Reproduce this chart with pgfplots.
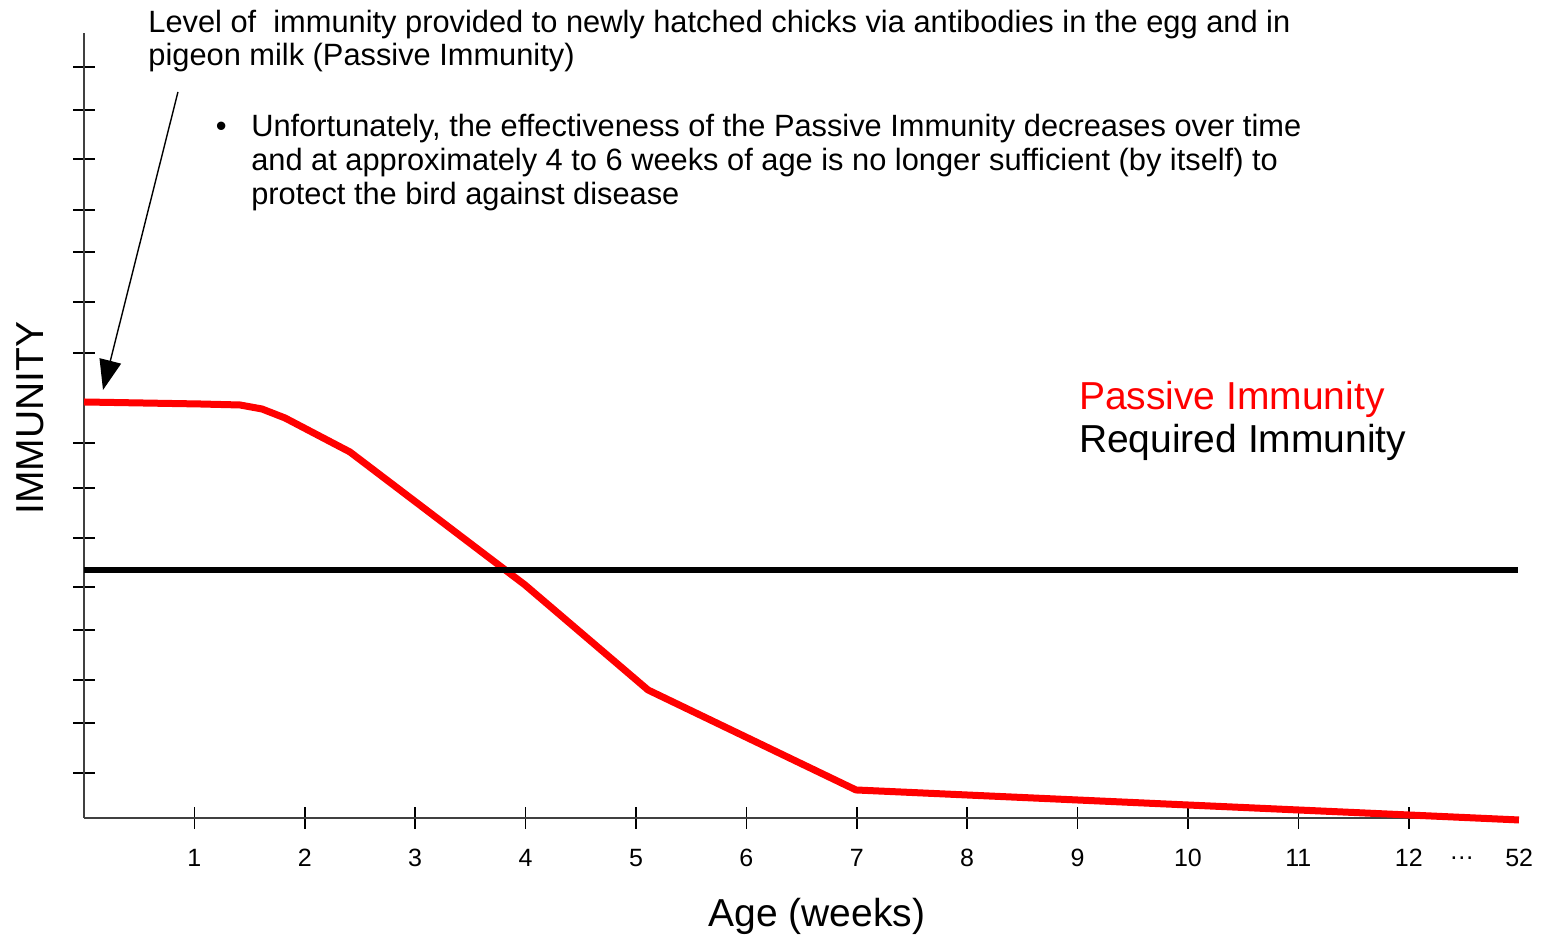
\documentclass[border=0pt]{standalone}
\usepackage{fontspec}
\setmainfont{Liberation Sans}
\usepackage{pgfplots}
\pgfplotsset{compat=1.18}
\usetikzlibrary{arrows.meta}

% passive immunity curve (x = week position, y = level)
\pgfplotstableread{
x      y
0      416
1.05   414
1.413  413
1.612  409
1.821  400
2.409  366
3.995  233
5.109  128
6.993  28
12.998 -2
}\passive

\begin{document}
\begin{tikzpicture}
\begin{axis}[
  scale only axis,
  width=717.6pt, height=392.5pt,
  xmin=0, xmax=13, ymin=0, ymax=785,
  axis lines=left,
  axis line style={-, black!75, line width=0.8pt},
  clip=false,
  tick align=center,
  major tick length=11pt,
  tick style={black, line width=0.8pt},
  xtick={1,2,3,4,5,6,7,8,9,10,11,12},
  xticklabels={1,2,3,4,5,6,7,8,9,10,11,12},
  extra x ticks={12.48,13},
  extra x tick labels={\raisebox{3.5pt}{\char"2026},52},
  extra x tick style={tick style={draw=none}},
  xticklabel style={font=\fontsize{12.5}{15}\selectfont, anchor=base, yshift=-19pt},
  ytick={45,95,138,188,231,280,330,375,465,516,566,608,659,708,751},
  yticklabels={},
]
\addplot[red, line width=3.5pt, line join=round] table[x=x,y=y] {\passive};
\addplot[black, line width=3pt] coordinates {(0,248) (12.99,248)};

\draw[line width=0.7pt, -{Triangle[length=15pt,width=11pt]}] (axis cs:0.851,726) -- (axis cs:0.172,428);

\begin{scope}[font=\fontsize{15.4}{18}\selectfont, inner sep=0pt]
\node[anchor=base west] at (axis cs:0.580,785) {Level of~ immunity provided to newly hatched chicks via antibodies in the egg and in};
\node[anchor=base west] at (axis cs:0.580,752) {pigeon milk (Passive Immunity)};
\node[anchor=base west] at (axis cs:1.19,681) {\textbullet};
\node[anchor=base west] at (axis cs:1.512,681) {Unfortunately, the effectiveness of the Passive Immunity decreases over time};
\node[anchor=base west] at (axis cs:1.512,647) {and at approximately 4 to 6 weeks of age is no longer sufficient (by itself) to};
\node[anchor=base west] at (axis cs:1.512,613) {protect the bird against disease};
\end{scope}

\begin{scope}[font=\fontsize{19.5}{23}\selectfont, inner sep=0pt]
\node[anchor=base west, text=red] at (axis cs:9.01,408) {Passive Immunity};
\node[anchor=base west] at (axis cs:9.01,365) {Required Immunity};
\node[rotate=90] at (axis cs:-0.489,400) {IMMUNITY};
\node[anchor=base] at (axis cs:6.64,-109) {Age (weeks)};
\end{scope}

\coordinate (bbsw) at (axis cs:-0.761,-119);
\coordinate (bbne) at (axis cs:13.216,818);
\end{axis}
\pgfresetboundingbox
\path[use as bounding box] (bbsw) rectangle (bbne);
\end{tikzpicture}
\end{document}
